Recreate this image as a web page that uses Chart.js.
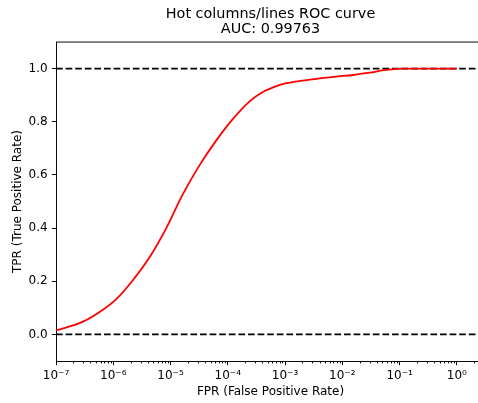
<!DOCTYPE html>
<html>
<head>
<meta charset="utf-8">
<script src="https://cdn.jsdelivr.net/npm/chart.js@4.4.1/dist/chart.umd.min.js"></script>
<style>
  html, body { margin: 0; padding: 0; background: #fff; }
  #wrap { width: 478px; height: 403px; overflow: hidden; }
</style>
</head>
<body>
<div id="wrap"><canvas id="rocChart" width="486" height="403"></canvas></div>
<script>
// ROC curve (FPR on log axis)
const fpr = [1e-7, 2.95e-7, 6.5e-7, 1.12e-6, 2.2e-6, 4.3e-6, 8.3e-6, 1.6e-5, 3.2e-5, 6.3e-5,
  1.2e-4, 2.4e-4, 4.1e-4, 6.5e-4, 1.05e-3, 2.0e-3, 4.0e-3, 7.9e-3, 1.55e-2, 3.0e-2,
  5.9e-2, 1.15e-1, 1];
const tpr = [0.015, 0.048, 0.092, 0.132, 0.204, 0.29, 0.397, 0.523, 0.636, 0.73,
  0.808, 0.877, 0.912, 0.931, 0.945, 0.955, 0.963, 0.970, 0.976, 0.985,
  0.995, 1.0, 1.0];

// dashed reference lines
const refLevels = [0, 1];

// axes
const xLimits = [1e-7, 3.1];
const yLimits = [-0.1, 1.1];
const xMajorTicks = [1e-7, 1e-6, 1e-5, 1e-4, 1e-3, 1e-2, 1e-1, 1e0];
const xTickLabels = ["10⁻⁷", "10⁻⁶", "10⁻⁵", "10⁻⁴", "10⁻³", "10⁻²", "10⁻¹", "10⁰"];
const yTicks = [0, 0.2, 0.4, 0.6, 0.8, 1.0];
const yTickLabels = ["0.0", "0.2", "0.4", "0.6", "0.8", "1.0"];

// minor ticks 2..9 per decade, inside the x range
const xMinorTicks = [];
xMajorTicks.forEach((m) => {
  for (let k = 2; k <= 9; k++) {
    if (m * k < xLimits[1]) xMinorTicks.push(m * k);
  }
});

Chart.defaults.font.family = "'DejaVu Sans', sans-serif";
Chart.defaults.color = "#000";

// minor ticks and the top spine
const axisExtras = {
  id: "axisExtras",
  afterDraw(chart) {
    const { ctx, chartArea, scales } = chart;
    ctx.save();
    ctx.strokeStyle = "#000";
    ctx.lineWidth = 0.96;
    ctx.beginPath();
    xMinorTicks.forEach((v) => {
      const px = Math.round(scales.x.getPixelForValue(v)) + 0.5;
      ctx.moveTo(px, chartArea.bottom);
      ctx.lineTo(px, chartArea.bottom + 2.4);
    });
    ctx.moveTo(chartArea.left, chartArea.top);
    ctx.lineTo(chartArea.right, chartArea.top);
    ctx.stroke();
    ctx.restore();
  },
};

const datasets = [
  {
    label: "ROC",
    data: fpr.map((x, i) => ({ x: x, y: tpr[i] })),
    borderColor: "#ff0000",
    borderWidth: 1.8,
    showLine: true,
    pointRadius: 0,
    cubicInterpolationMode: "monotone",
    order: 0,
  },
];
refLevels.forEach((lv) => {
  datasets.push({
    label: "ref " + lv,
    data: [{ x: xLimits[0], y: lv }, { x: xLimits[1], y: lv }],
    borderColor: "#000",
    borderWidth: 1.8,
    borderDash: [6.7, 2.9],
    showLine: true,
    pointRadius: 0,
    order: 1,
  });
});

new Chart(document.getElementById("rocChart"), {
  type: "scatter",
  data: { datasets: datasets },
  plugins: [axisExtras],
  options: {
    responsive: false,
    animation: false,
    layout: { padding: { left: 0, right: 1, top: 0, bottom: 0 } },
    plugins: {
      legend: { display: false },
      tooltip: { enabled: false },
      title: {
        display: true,
        fullSize: false,
        text: ["Hot columns/lines ROC curve", "AUC: 0.99763"],
        font: { size: 14.4, weight: "normal", lineHeight: 1.05 },
        color: "#000",
        padding: { top: 7, bottom: 4.8 },
      },
    },
    scales: {
      x: {
        type: "logarithmic",
        min: xLimits[0],
        max: xLimits[1],
        afterFit: (s) => { s.height = 42; },
        afterBuildTicks: (s) => {
          s.ticks = xMajorTicks.map((v) => ({ value: v, major: true }));
        },
        ticks: {
          autoSkip: false,
          maxRotation: 0,
          padding: 3.5,
          font: { size: 12 },
          callback: (v) => {
            const i = xMajorTicks.findIndex((m) => Math.abs(m - v) / m < 1e-6);
            return i >= 0 ? xTickLabels[i] : "";
          },
        },
        grid: { drawOnChartArea: false, tickLength: 4.2, tickWidth: 0.96, tickColor: "#000" },
        border: { color: "#000", width: 0.96 },
        title: {
          display: true,
          text: "FPR (False Positive Rate)",
          font: { size: 12 },
          padding: { top: 0, bottom: 3.8 },
        },
      },
      y: {
        min: yLimits[0],
        max: yLimits[1],
        afterFit: (s) => { s.width = 56; },
        afterBuildTicks: (s) => {
          s.ticks = yTicks.map((v) => ({ value: v }));
        },
        ticks: {
          padding: 4.2,
          font: { size: 12 },
          callback: (v) => {
            const i = yTicks.findIndex((t) => Math.abs(t - v) < 1e-9);
            return i >= 0 ? yTickLabels[i] : "";
          },
        },
        grid: { drawOnChartArea: false, tickLength: 4.2, tickWidth: 0.96, tickColor: "#000" },
        border: { color: "#000", width: 0.96 },
        title: {
          display: true,
          text: "TPR (True Positive Rate)",
          font: { size: 12 },
          padding: { top: 10.8, bottom: 0 },
        },
      },
    },
  },
});
</script>
</body>
</html>
